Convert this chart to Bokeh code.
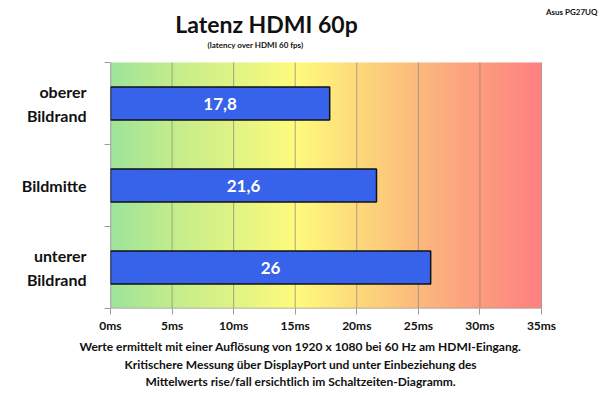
import numpy as np
from bokeh.plotting import figure
from bokeh.models import Range1d, FixedTicker, Title, Label
from bokeh.embed import file_html
from bokeh.resources import INLINE
from bokeh.core.properties import value

# ---- data ----
categories = ["oberer\nBildrand", "Bildmitte", "unterer\nBildrand"]
latency_ms = [17.8, 21.6, 26.0]
value_labels = ["17,8", "21,6", "26"]
x_ticks = [0, 5, 10, 15, 20, 25, 30, 35]
x_tick_labels = ["0ms", "5ms", "10ms", "15ms", "20ms", "25ms", "30ms", "35ms"]
title_text = "Latenz HDMI 60p"
subtitle_text = "(latency over HDMI 60  fps)"
corner_text = "Asus PG27UQ"
footer_lines = [
    "Werte ermittelt mit einer Auflösung von 1920 x 1080 bei 60 Hz am HDMI-Eingang.",
    "Kritischere Messung über DisplayPort und unter Einbeziehung des",
    "Mittelwerts rise/fall ersichtlich im Schaltzeiten-Diagramm.",
]

FONT = "Lato"
n = len(categories)
positions = [n - i - 0.5 for i in range(n)]
boundaries = list(range(n + 1))
x_max = x_ticks[-1]

# layout (pixels): header band and right margin are part of the frame,
# so the header labels are not clipped
LEFT_PX = 110
PLOT_W = 431
RIGHT_PX = 59
HEADER_PX = 62
PLOT_PX = 246
BOTTOM_PX = 87
y_top = n * (1 + HEADER_PX / PLOT_PX)
x_right = x_max * (1 + RIGHT_PX / PLOT_W)

p = figure(width=LEFT_PX + PLOT_W + RIGHT_PX, height=HEADER_PX + PLOT_PX + BOTTOM_PX,
           output_backend="svg", toolbar_location=None,
           x_range=Range1d(0, x_right), y_range=Range1d(0, y_top),
           min_border_left=LEFT_PX, min_border_right=0, min_border_top=0,
           min_border_bottom=BOTTOM_PX)
p.outline_line_color = None
p.background_fill_color = "white"
p.border_fill_color = "white"

# gradient background over the data area
stops = [0.0, 0.14, 0.43, 0.6, 0.75, 1.0]
cols = np.array([[158, 228, 155], [194, 237, 140], [255, 251, 125],
                 [253, 212, 122], [252, 178, 125], [255, 128, 128]], dtype=float)
N = 400
t = np.linspace(0, 1, N)
img = np.empty((1, N), dtype=np.uint32)
view = img.view(dtype=np.uint8).reshape((1, N, 4))
for c in range(3):
    view[0, :, c] = np.interp(t, stops, cols[:, c]).astype(np.uint8)
view[0, :, 3] = 255
p.image_rgba(image=[img], x=0, y=0, dw=x_max, dh=n, level="image")

# vertical grid lines limited to the data area
p.xgrid.visible = False
p.ygrid.visible = False
p.segment(x0=x_ticks, y0=[0] * len(x_ticks), x1=x_ticks, y1=[n] * len(x_ticks),
          line_color="#8a8a8a", line_alpha=0.75, line_width=1, level="underlay")
# axis lines limited to the data area
p.segment(x0=[0, 0], y0=[0, 0], x1=[0, x_max], y1=[n, 0], line_color="#9a9a9a",
          line_width=1.5, level="underlay")

# bars
p.hbar(y=positions, left=0, right=latency_ms, height=0.4,
       fill_color="#3763EA", line_color="#111111", line_width=1.5)
p.text(x=[v / 2 for v in latency_ms], y=positions, text=value_labels,
       text_font=value(FONT), text_font_style="bold", text_font_size="17px",
       text_color="white", text_align="center", text_baseline="middle")

# x axis
xa = p.xaxis[0]
xa.ticker = FixedTicker(ticks=x_ticks, minor_ticks=[])
xa.major_label_overrides = {t_: l for t_, l in zip(x_ticks, x_tick_labels)}
xa.axis_line_color = None
xa.major_tick_line_color = "#9a9a9a"
xa.major_tick_out = 6
xa.major_tick_in = 0
xa.major_label_standoff = 3
xa.major_label_text_font = FONT
xa.major_label_text_font_style = "bold"
xa.major_label_text_font_size = "12px"
xa.major_label_text_color = "#111111"

# y axis
ya = p.yaxis[0]
ya.ticker = FixedTicker(ticks=positions, minor_ticks=boundaries)
ya.major_label_overrides = {pos: lab for pos, lab in zip(positions, categories)}
ya.axis_line_color = None
ya.major_tick_line_color = None
ya.major_tick_out = 0
ya.major_tick_in = 0
ya.minor_tick_line_color = "#9a9a9a"
ya.minor_tick_out = 6
ya.minor_tick_in = 0
ya.major_label_standoff = 18
ya.major_label_text_font = FONT
ya.major_label_text_font_style = "bold"
ya.major_label_text_font_size = "16px"
ya.major_label_text_line_height = 1.3
ya.major_label_text_color = "#111111"
ya.major_label_text_align = "center"


def add_label(text, cx, baseline_y, size, align):
    # cx, baseline_y in canvas pixels; converted to frame-relative screen units
    p.add_layout(Label(x=cx - LEFT_PX, y=HEADER_PX + PLOT_PX - baseline_y,
                       x_units="screen", y_units="screen", text=text,
                       text_font=FONT, text_font_style="bold", text_font_size=size,
                       text_align=align, text_baseline="alphabetic",
                       text_color="#111111"))


add_label(title_text, 266, 23, "23px", "center")
add_label(subtitle_text, 256, 44, "8px", "center")
add_label(corner_text, 597, 11, "8px", "right")


def add_title(text, place, size, offset, standoff, align="left"):
    t_ = Title(text=text, align=align, offset=offset, standoff=standoff,
               text_font=FONT, text_font_style="bold", text_font_size=size,
               text_color="#111111")
    p.add_layout(t_, place)


# footer: closest to the plot first
add_title(footer_lines[0], "below", "12px", -31, 2)
add_title(footer_lines[1], "below", "12px", 14, 0)
add_title(footer_lines[2], "below", "12px", 35, 0)

open("out.html", "w").write(file_html(p, INLINE))
